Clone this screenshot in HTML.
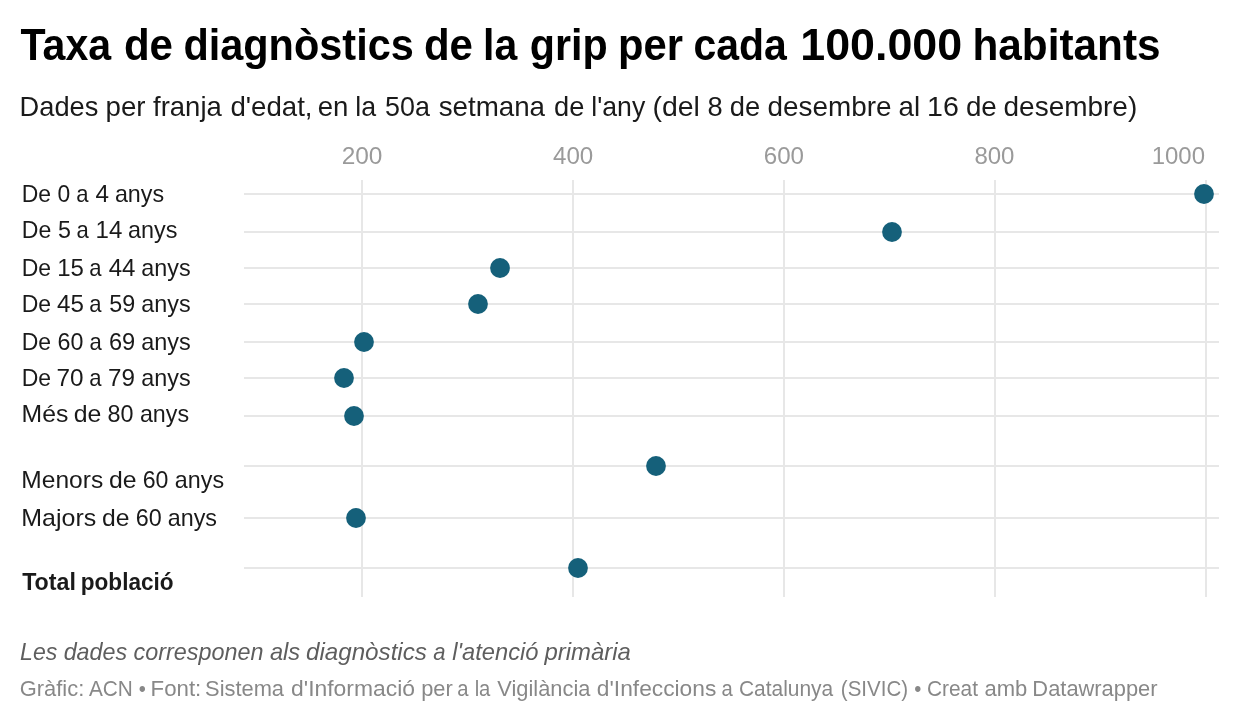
<!DOCTYPE html>
<html>
<head>
<meta charset="utf-8">
<style>
html,body{margin:0;padding:0;background:#fff;}
body{width:1240px;height:722px;overflow:hidden;position:relative;}
svg{position:absolute;left:0;top:0;display:block;will-change:transform;}
text{font-family:"Liberation Sans",sans-serif;}
.t{font-weight:bold;font-size:44.5px;fill:#000;}
.s{font-size:28px;fill:#1a1a1a;}
.ax{font-size:24.8px;fill:#9a9a9a;}
.lb{font-size:24px;fill:#1a1a1a;}
.lbb{font-size:24px;fill:#1a1a1a;font-weight:bold;}
.n{font-size:24px;fill:#5e5e5e;font-style:italic;}
.by{font-size:22px;fill:#888;}
.g{stroke:#e7e7e7;stroke-width:2;fill:none;}
.d{fill:#15607a;}
</style>
</head>
<body>
<svg width="1240" height="722" viewBox="0 0 1240 722">
<g class="g">
<line x1="362" y1="180" x2="362" y2="597"/>
<line x1="573" y1="180" x2="573" y2="597"/>
<line x1="784" y1="180" x2="784" y2="597"/>
<line x1="995" y1="180" x2="995" y2="597"/>
<line x1="1206" y1="180" x2="1206" y2="597"/>
<line x1="244" y1="194" x2="1219" y2="194"/>
<line x1="244" y1="232" x2="1219" y2="232"/>
<line x1="244" y1="268" x2="1219" y2="268"/>
<line x1="244" y1="304" x2="1219" y2="304"/>
<line x1="244" y1="342" x2="1219" y2="342"/>
<line x1="244" y1="378" x2="1219" y2="378"/>
<line x1="244" y1="416" x2="1219" y2="416"/>
<line x1="244" y1="466" x2="1219" y2="466"/>
<line x1="244" y1="518" x2="1219" y2="518"/>
<line x1="244" y1="568" x2="1219" y2="568"/>
</g>
<g class="d">
<circle cx="1204" cy="194" r="9.9"/>
<circle cx="892" cy="232" r="9.9"/>
<circle cx="500" cy="268" r="9.9"/>
<circle cx="478" cy="304" r="9.9"/>
<circle cx="364" cy="342" r="9.9"/>
<circle cx="344" cy="378" r="9.9"/>
<circle cx="354" cy="416" r="9.9"/>
<circle cx="656" cy="466" r="9.9"/>
<circle cx="356" cy="518" r="9.9"/>
<circle cx="578" cy="568" r="9.9"/>
</g>
<text id="a200" class="ax" x="341.65" y="164" textLength="40.75" lengthAdjust="spacingAndGlyphs">200</text>
<text id="a400" class="ax" x="552.96" y="164" textLength="40.29" lengthAdjust="spacingAndGlyphs">400</text>
<text id="a600" class="ax" x="763.77" y="164" textLength="40.28" lengthAdjust="spacingAndGlyphs">600</text>
<text id="a800" class="ax" x="974.39" y="164" textLength="40.07" lengthAdjust="spacingAndGlyphs">800</text>
<text id="a1000" class="ax" x="1151.73" y="164" textLength="53.31" lengthAdjust="spacingAndGlyphs">1000</text>
<text id="title_0" class="t" x="20.46" y="60" textLength="90.70" lengthAdjust="spacingAndGlyphs">Taxa</text>
<text id="title_1" class="t" x="123.89" y="60" textLength="49.06" lengthAdjust="spacingAndGlyphs">de</text>
<text id="title_2" class="t" x="183.40" y="60" textLength="230.39" lengthAdjust="spacingAndGlyphs">diagnòstics</text>
<text id="title_3" class="t" x="423.94" y="60" textLength="49.02" lengthAdjust="spacingAndGlyphs">de</text>
<text id="title_4" class="t" x="483.12" y="60" textLength="34.15" lengthAdjust="spacingAndGlyphs">la</text>
<text id="title_5" class="t" x="529.70" y="60" textLength="77.93" lengthAdjust="spacingAndGlyphs">grip</text>
<text id="title_6" class="t" x="617.95" y="60" textLength="64.94" lengthAdjust="spacingAndGlyphs">per</text>
<text id="title_7" class="t" x="693.43" y="60" textLength="93.39" lengthAdjust="spacingAndGlyphs">cada</text>
<text id="title_8" class="t" x="800.25" y="60" textLength="161.91" lengthAdjust="spacingAndGlyphs">100.000</text>
<text id="title_9" class="t" x="972.46" y="60" textLength="188.06" lengthAdjust="spacingAndGlyphs">habitants</text>
<text id="sub_0" class="s" x="19.59" y="116" textLength="78.75" lengthAdjust="spacingAndGlyphs">Dades</text>
<text id="sub_1" class="s" x="105.53" y="116" textLength="39.98" lengthAdjust="spacingAndGlyphs">per</text>
<text id="sub_2" class="s" x="153.04" y="116" textLength="68.78" lengthAdjust="spacingAndGlyphs">franja</text>
<text id="sub_3" class="s" x="230.39" y="116" textLength="82.18" lengthAdjust="spacingAndGlyphs">d'edat,</text>
<text id="sub_4" class="s" x="317.71" y="116" textLength="30.74" lengthAdjust="spacingAndGlyphs">en</text>
<text id="sub_5" class="s" x="355.24" y="116" textLength="20.82" lengthAdjust="spacingAndGlyphs">la</text>
<text id="sub_6" class="s" x="385.09" y="116" textLength="44.87" lengthAdjust="spacingAndGlyphs">50a</text>
<text id="sub_7" class="s" x="438.63" y="116" textLength="106.43" lengthAdjust="spacingAndGlyphs">setmana</text>
<text id="sub_8" class="s" x="554.05" y="116" textLength="30.32" lengthAdjust="spacingAndGlyphs">de</text>
<text id="sub_9" class="s" x="591.31" y="116" textLength="53.96" lengthAdjust="spacingAndGlyphs">l'any</text>
<text id="sub_10" class="s" x="652.47" y="116" textLength="47.47" lengthAdjust="spacingAndGlyphs">(del</text>
<text id="sub_11" class="s" x="707.38" y="116" textLength="15.16" lengthAdjust="spacingAndGlyphs">8</text>
<text id="sub_12" class="s" x="729.76" y="116" textLength="30.44" lengthAdjust="spacingAndGlyphs">de</text>
<text id="sub_13" class="s" x="767.57" y="116" textLength="123.96" lengthAdjust="spacingAndGlyphs">desembre</text>
<text id="sub_14" class="s" x="898.59" y="116" textLength="21.57" lengthAdjust="spacingAndGlyphs">al</text>
<text id="sub_15" class="s" x="927.00" y="116" textLength="31.78" lengthAdjust="spacingAndGlyphs">16</text>
<text id="sub_16" class="s" x="965.89" y="116" textLength="30.90" lengthAdjust="spacingAndGlyphs">de</text>
<text id="sub_17" class="s" x="1003.54" y="116" textLength="133.71" lengthAdjust="spacingAndGlyphs">desembre)</text>
<text id="notes_0" class="n" x="20.12" y="660" textLength="37.21" lengthAdjust="spacingAndGlyphs">Les</text>
<text id="notes_1" class="n" x="63.63" y="660" textLength="63.47" lengthAdjust="spacingAndGlyphs">dades</text>
<text id="notes_2" class="n" x="133.56" y="660" textLength="129.84" lengthAdjust="spacingAndGlyphs">corresponen</text>
<text id="notes_3" class="n" x="269.90" y="660" textLength="30.23" lengthAdjust="spacingAndGlyphs">als</text>
<text id="notes_4" class="n" x="305.94" y="660" textLength="120.97" lengthAdjust="spacingAndGlyphs">diagnòstics</text>
<text id="notes_5" class="n" x="433.14" y="660" textLength="12.29" lengthAdjust="spacingAndGlyphs">a</text>
<text id="notes_6" class="n" x="452.32" y="660" textLength="86.08" lengthAdjust="spacingAndGlyphs">l'atenció</text>
<text id="notes_7" class="n" x="544.56" y="660" textLength="86.34" lengthAdjust="spacingAndGlyphs">primària</text>
<text id="byline_0" class="by" x="19.79" y="696" textLength="64.49" lengthAdjust="spacingAndGlyphs">Gràfic:</text>
<text id="byline_1" class="by" x="88.94" y="696" textLength="43.92" lengthAdjust="spacingAndGlyphs">ACN</text>
<text id="byline_2" class="by" x="138.65" y="696" textLength="7.08" lengthAdjust="spacingAndGlyphs">•</text>
<text id="byline_3" class="by" x="150.61" y="696" textLength="50.68" lengthAdjust="spacingAndGlyphs">Font:</text>
<text id="byline_4" class="by" x="205.09" y="696" textLength="78.94" lengthAdjust="spacingAndGlyphs">Sistema</text>
<text id="byline_5" class="by" x="291.06" y="696" textLength="123.98" lengthAdjust="spacingAndGlyphs">d'Informació</text>
<text id="byline_6" class="by" x="421.22" y="696" textLength="31.51" lengthAdjust="spacingAndGlyphs">per</text>
<text id="byline_7" class="by" x="457.36" y="696" textLength="11.27" lengthAdjust="spacingAndGlyphs">a</text>
<text id="byline_8" class="by" x="474.63" y="696" textLength="15.75" lengthAdjust="spacingAndGlyphs">la</text>
<text id="byline_9" class="by" x="497.33" y="696" textLength="93.05" lengthAdjust="spacingAndGlyphs">Vigilància</text>
<text id="byline_10" class="by" x="596.85" y="696" textLength="119.46" lengthAdjust="spacingAndGlyphs">d'Infeccions</text>
<text id="byline_11" class="by" x="721.41" y="696" textLength="11.27" lengthAdjust="spacingAndGlyphs">a</text>
<text id="byline_12" class="by" x="738.92" y="696" textLength="94.32" lengthAdjust="spacingAndGlyphs">Catalunya</text>
<text id="byline_13" class="by" x="840.82" y="696" textLength="67.22" lengthAdjust="spacingAndGlyphs">(SIVIC)</text>
<text id="byline_14" class="by" x="914.20" y="696" textLength="7.08" lengthAdjust="spacingAndGlyphs">•</text>
<text id="byline_15" class="by" x="926.94" y="696" textLength="51.06" lengthAdjust="spacingAndGlyphs">Creat</text>
<text id="byline_16" class="by" x="984.41" y="696" textLength="42.83" lengthAdjust="spacingAndGlyphs">amb</text>
<text id="byline_17" class="by" x="1032.35" y="696" textLength="125.22" lengthAdjust="spacingAndGlyphs">Datawrapper</text>
<text id="l1_0" class="lb" x="21.73" y="202" textLength="29.30" lengthAdjust="spacingAndGlyphs">De</text>
<text id="l1_1" class="lb" x="57.53" y="202" textLength="12.73" lengthAdjust="spacingAndGlyphs">0</text>
<text id="l1_2" class="lb" x="76.23" y="202" textLength="12.29" lengthAdjust="spacingAndGlyphs">a</text>
<text id="l1_3" class="lb" x="95.40" y="202" textLength="13.50" lengthAdjust="spacingAndGlyphs">4</text>
<text id="l1_4" class="lb" x="114.89" y="202" textLength="49.18" lengthAdjust="spacingAndGlyphs">anys</text>
<text id="l2_0" class="lb" x="21.78" y="238" textLength="29.50" lengthAdjust="spacingAndGlyphs">De</text>
<text id="l2_1" class="lb" x="57.90" y="238" textLength="12.96" lengthAdjust="spacingAndGlyphs">5</text>
<text id="l2_2" class="lb" x="76.40" y="238" textLength="12.29" lengthAdjust="spacingAndGlyphs">a</text>
<text id="l2_3" class="lb" x="95.60" y="238" textLength="26.77" lengthAdjust="spacingAndGlyphs">14</text>
<text id="l2_4" class="lb" x="128.05" y="238" textLength="49.44" lengthAdjust="spacingAndGlyphs">anys</text>
<text id="l3_0" class="lb" x="21.70" y="276" textLength="29.38" lengthAdjust="spacingAndGlyphs">De</text>
<text id="l3_1" class="lb" x="57.15" y="276" textLength="26.67" lengthAdjust="spacingAndGlyphs">15</text>
<text id="l3_2" class="lb" x="89.34" y="276" textLength="12.29" lengthAdjust="spacingAndGlyphs">a</text>
<text id="l3_3" class="lb" x="108.65" y="276" textLength="26.79" lengthAdjust="spacingAndGlyphs">44</text>
<text id="l3_4" class="lb" x="141.29" y="276" textLength="49.39" lengthAdjust="spacingAndGlyphs">anys</text>
<text id="l4_0" class="lb" x="21.70" y="312" textLength="29.38" lengthAdjust="spacingAndGlyphs">De</text>
<text id="l4_1" class="lb" x="57.02" y="312" textLength="26.85" lengthAdjust="spacingAndGlyphs">45</text>
<text id="l4_2" class="lb" x="89.34" y="312" textLength="12.29" lengthAdjust="spacingAndGlyphs">a</text>
<text id="l4_3" class="lb" x="109.31" y="312" textLength="25.90" lengthAdjust="spacingAndGlyphs">59</text>
<text id="l4_4" class="lb" x="141.29" y="312" textLength="49.39" lengthAdjust="spacingAndGlyphs">anys</text>
<text id="l5_0" class="lb" x="21.69" y="350" textLength="29.38" lengthAdjust="spacingAndGlyphs">De</text>
<text id="l5_1" class="lb" x="57.49" y="350" textLength="25.88" lengthAdjust="spacingAndGlyphs">60</text>
<text id="l5_2" class="lb" x="89.49" y="350" textLength="12.29" lengthAdjust="spacingAndGlyphs">a</text>
<text id="l5_3" class="lb" x="108.94" y="350" textLength="26.29" lengthAdjust="spacingAndGlyphs">69</text>
<text id="l5_4" class="lb" x="141.25" y="350" textLength="49.51" lengthAdjust="spacingAndGlyphs">anys</text>
<text id="l6_0" class="lb" x="21.70" y="386" textLength="29.38" lengthAdjust="spacingAndGlyphs">De</text>
<text id="l6_1" class="lb" x="56.48" y="386" textLength="27.06" lengthAdjust="spacingAndGlyphs">70</text>
<text id="l6_2" class="lb" x="89.34" y="386" textLength="12.29" lengthAdjust="spacingAndGlyphs">a</text>
<text id="l6_3" class="lb" x="108.12" y="386" textLength="26.93" lengthAdjust="spacingAndGlyphs">79</text>
<text id="l6_4" class="lb" x="141.29" y="386" textLength="49.39" lengthAdjust="spacingAndGlyphs">anys</text>
<text id="l7_0" class="lb" x="21.54" y="422" textLength="46.74" lengthAdjust="spacingAndGlyphs">Més</text>
<text id="l7_1" class="lb" x="73.75" y="422" textLength="27.63" lengthAdjust="spacingAndGlyphs">de</text>
<text id="l7_2" class="lb" x="107.56" y="422" textLength="25.99" lengthAdjust="spacingAndGlyphs">80</text>
<text id="l7_3" class="lb" x="139.89" y="422" textLength="49.18" lengthAdjust="spacingAndGlyphs">anys</text>
<text id="l8_0" class="lb" x="21.38" y="488" textLength="81.82" lengthAdjust="spacingAndGlyphs">Menors</text>
<text id="l8_1" class="lb" x="108.98" y="488" textLength="27.57" lengthAdjust="spacingAndGlyphs">de</text>
<text id="l8_2" class="lb" x="142.77" y="488" textLength="25.72" lengthAdjust="spacingAndGlyphs">60</text>
<text id="l8_3" class="lb" x="174.85" y="488" textLength="49.20" lengthAdjust="spacingAndGlyphs">anys</text>
<text id="l9_0" class="lb" x="21.27" y="526" textLength="74.92" lengthAdjust="spacingAndGlyphs">Majors</text>
<text id="l9_1" class="lb" x="101.91" y="526" textLength="27.46" lengthAdjust="spacingAndGlyphs">de</text>
<text id="l9_2" class="lb" x="135.71" y="526" textLength="25.98" lengthAdjust="spacingAndGlyphs">60</text>
<text id="l9_3" class="lb" x="167.76" y="526" textLength="49.29" lengthAdjust="spacingAndGlyphs">anys</text>
<text id="l10_0" class="lbb" x="22.13" y="590" textLength="53.76" lengthAdjust="spacingAndGlyphs">Total</text>
<text id="l10_1" class="lbb" x="80.74" y="590" textLength="92.92" lengthAdjust="spacingAndGlyphs">població</text>
</svg>
</body>
</html>
